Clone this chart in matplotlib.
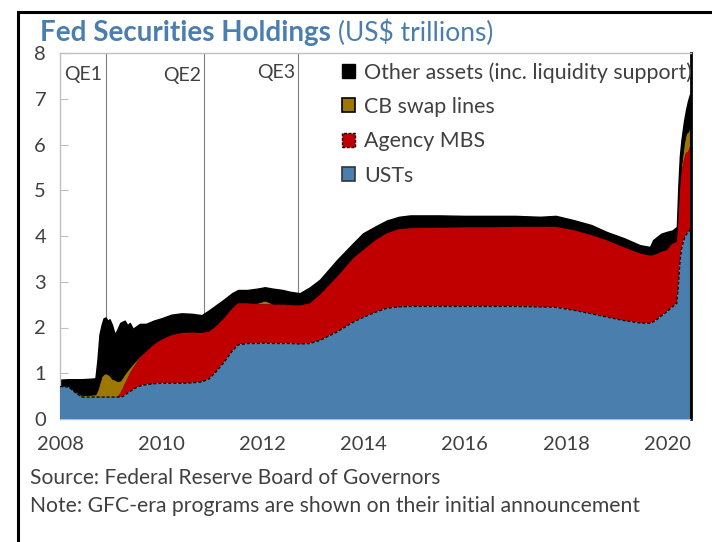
import matplotlib
matplotlib.use("Agg")
import matplotlib.pyplot as plt
from matplotlib.patches import Patch
from matplotlib.lines import Line2D
import numpy as np

plt.rcParams['font.family'] = ['Lato', 'DejaVu Sans']

# ---- data (US$ trillions), decimal-year dates ----
dates = [2008.00, 2008.17, 2008.30, 2008.43, 2008.60, 2008.70, 2008.74, 2008.78, 2008.82, 2008.86,
         2008.90, 2008.94, 2008.98, 2009.03, 2009.08, 2009.13, 2009.19, 2009.24, 2009.28, 2009.33,
         2009.38, 2009.44, 2009.50, 2009.58, 2009.70, 2009.85, 2010.00, 2010.20, 2010.40, 2010.60,
         2010.80, 2010.95, 2011.10, 2011.25, 2011.40, 2011.52, 2011.70, 2011.90, 2012.05, 2012.20,
         2012.40, 2012.55, 2012.74, 2012.94, 2013.14, 2013.47, 2013.80, 2013.99, 2014.25, 2014.46,
         2014.70, 2014.92, 2015.50, 2016.00, 2016.50, 2017.00, 2017.49, 2017.80, 2018.14, 2018.50,
         2018.80, 2019.15, 2019.46, 2019.66, 2019.72, 2019.80, 2019.88, 2019.99, 2020.10, 2020.19,
         2020.22, 2020.25, 2020.28, 2020.33, 2020.37, 2020.41, 2020.45, 2020.465, 2020.47]

usts = [0.71, 0.70, 0.58, 0.48, 0.48, 0.48, 0.48, 0.48, 0.48, 0.48,
        0.48, 0.48, 0.48, 0.48, 0.48, 0.48, 0.48, 0.49, 0.52, 0.56,
        0.60, 0.64, 0.68, 0.72, 0.75, 0.77, 0.78, 0.78, 0.78, 0.79,
        0.81, 0.88, 1.05, 1.25, 1.48, 1.62, 1.65, 1.65, 1.66, 1.65,
        1.65, 1.65, 1.64, 1.65, 1.72, 1.90, 2.12, 2.22, 2.34, 2.42,
        2.45, 2.46, 2.46, 2.46, 2.46, 2.46, 2.45, 2.44, 2.38, 2.30,
        2.23, 2.15, 2.10, 2.09, 2.12, 2.18, 2.25, 2.34, 2.45, 2.53,
        2.90, 3.40, 3.70, 3.92, 4.02, 4.08, 4.13, 4.13, 0.0]

agency_mbs = [0.0, 0.0, 0.0, 0.0, 0.0, 0.0, 0.0, 0.0, 0.0, 0.0,
              0.0, 0.0, 0.0, 0.0, 0.0, 0.0, 0.08, 0.18, 0.25, 0.32,
              0.40, 0.47, 0.53, 0.62, 0.72, 0.85, 0.95, 1.05, 1.10, 1.10,
              1.07, 1.03, 0.99, 0.96, 0.93, 0.91, 0.88, 0.86, 0.85, 0.85,
              0.85, 0.84, 0.84, 0.88, 1.00, 1.20, 1.40, 1.47, 1.58, 1.64,
              1.70, 1.71, 1.72, 1.73, 1.73, 1.74, 1.75, 1.76, 1.75, 1.72,
              1.68, 1.60, 1.52, 1.48, 1.46, 1.43, 1.40, 1.35, 1.38, 1.34,
              1.42, 1.55, 1.67, 1.75, 1.80, 1.76, 1.82, 1.82, 0.0]

cb_swaps = [0.00, 0.02, 0.03, 0.04, 0.05, 0.06, 0.15, 0.30, 0.45, 0.50,
            0.52, 0.50, 0.47, 0.40, 0.38, 0.35, 0.28, 0.25, 0.22, 0.18,
            0.13, 0.10, 0.07, 0.04, 0.02, 0.01, 0.0, 0.0, 0.0, 0.0,
            0.0, 0.0, 0.0, 0.0, 0.0, 0.0, 0.0, 0.03, 0.08, 0.02,
            0.01, 0.0, 0.0, 0.0, 0.0, 0.0, 0.0, 0.0, 0.0, 0.0,
            0.0, 0.0, 0.0, 0.0, 0.0, 0.0, 0.0, 0.0, 0.0, 0.0,
            0.0, 0.0, 0.0, 0.0, 0.0, 0.0, 0.0, 0.0, 0.0, 0.0,
            0.03, 0.08, 0.20, 0.35, 0.42, 0.44, 0.43, 0.40, 0.0]

other_assets = [0.15, 0.15, 0.26, 0.35, 0.35, 0.35, 0.67, 1.07, 1.12, 1.22,
                1.22, 1.17, 1.23, 1.17, 0.99, 1.12, 1.26, 1.21, 1.16, 0.99,
                0.97, 0.76, 0.74, 0.70, 0.59, 0.52, 0.47, 0.45, 0.43, 0.41,
                0.39, 0.47, 0.46, 0.41, 0.34, 0.29, 0.29, 0.31, 0.29, 0.33,
                0.31, 0.29, 0.27, 0.35, 0.33, 0.37, 0.33, 0.37, 0.30, 0.28,
                0.27, 0.28, 0.27, 0.25, 0.25, 0.24, 0.22, 0.24, 0.22, 0.22,
                0.18, 0.20, 0.18, 0.19, 0.33, 0.37, 0.40, 0.40, 0.29, 0.33,
                0.75, 0.72, 0.52, 0.48, 0.51, 0.67, 0.72, 0.65, 0.0]

qe_dates = [2008.90, 2010.84, 2012.70]
qe_labels = ["QE1", "QE2", "QE3"]
series_labels = ["Other assets (inc. liquidity support)", "CB swap lines", "Agency MBS", "USTs"]

# ---- styling ----
C_BLUE = "#4A7EAD"
C_RED = "#C00000"
C_GOLD = "#9C7800"
C_BLACK = "#000000"
C_TITLE = "#4A7EB0"
C_TEXT = "#404040"
C_SPINE = "#BFBFBF"

fig = plt.figure(figsize=(7.12, 5.42), dpi=100)
ax = fig.add_axes([60/712, 1-419/542, 631/712, 366/542])

x = np.array(dates)
l1 = np.array(usts)
l2 = l1 + np.array(agency_mbs)
l3 = l2 + np.array(cb_swaps)
l4 = l3 + np.array(other_assets)

ax.fill_between(x, l3, l4, facecolor=C_BLACK, edgecolor=C_BLACK, linewidth=1.0, zorder=2)
ax.fill_between(x, l2, l3, facecolor=C_GOLD, edgecolor=C_BLACK, linewidth=0.6, zorder=3)
ax.fill_between(x, l1, l2, facecolor=C_RED, edgecolor="none", linewidth=0, zorder=3)
ax.fill_between(x, 0, l1, facecolor=C_BLUE, edgecolor="none", linewidth=0, zorder=3)
ax.plot(x[:-1], l1[:-1], color=C_BLACK, linewidth=0.9, linestyle=(0, (2.5, 1.5)), zorder=4)
ax.plot([x[-2], x[-2]], [0, l4[-2]], color=C_BLACK, linewidth=1.5, zorder=4)

for d in qe_dates:
    ax.axvline(d, color="#808080", linewidth=0.8, zorder=1)
yq = [7.52, 7.50, 7.58]
for d, lab, yy in zip(qe_dates, qe_labels, yq):
    ax.text(d - 0.06, yy, lab, ha="right", va="center", fontsize=14, color=C_TEXT, zorder=5)

ax.set_xlim(2008.0, 2020.47)
ax.set_ylim(0, 8)
ax.set_xticks(range(2008, 2021, 2))
ax.set_yticks(range(0, 9))
ax.tick_params(axis="both", direction="in", colors=C_SPINE, labelcolor=C_TEXT, labelsize=14.5)
ax.tick_params(axis="x", length=5, pad=12)
ax.tick_params(axis="y", length=6, pad=10)
for s in ["left", "top", "bottom"]:
    ax.spines[s].set_color(C_SPINE)
    ax.spines[s].set_linewidth(1.0)
ax.spines["right"].set_color(C_BLACK)
ax.spines["right"].set_linewidth(2.0)

handles = [
    Patch(facecolor=C_BLACK, edgecolor=C_BLACK, linewidth=1.0),
    Patch(facecolor=C_GOLD, edgecolor=C_BLACK, linewidth=1.2),
    Patch(facecolor=C_RED, edgecolor=C_BLACK, linewidth=1.0, linestyle=(0, (2, 1.2))),
    Patch(facecolor=C_BLUE, edgecolor="#333333", linewidth=1.2),
]
leg = fig.legend(handles, series_labels, loc="upper left", bbox_to_anchor=(342/712, 1-62/542),
                 frameon=False, fontsize=15.4, handlelength=0.62, handleheight=0.62,
                 handletextpad=0.4, labelspacing=0.67, borderaxespad=0, borderpad=0)
for t in leg.get_texts():
    t.set_color(C_TEXT)

t1 = fig.text(40/712, 1-33/542, "Fed Securities Holdings", fontsize=20, fontweight="bold",
              color=C_TITLE, ha="left", va="center")
fig.canvas.draw()
bb = t1.get_window_extent(fig.canvas.get_renderer())
fig.text((bb.x1 + 7) / 712, 1-33/542, "(US$ trillions)", fontsize=19, color=C_TITLE,
         ha="left", va="center")

fig.text(30/712, 1-478/542, "Source: Federal Reserve Board of Governors", fontsize=15.1,
         color=C_TEXT, ha="left", va="center")
fig.text(30/712, 1-506/542, "Note: GFC-era programs are shown on their initial announcement",
         fontsize=15.2, color=C_TEXT, ha="left", va="center")

# outer frame (left and top sides visible)
fig.add_artist(Line2D([18/712, 18/712], [0, 1-12/542], transform=fig.transFigure,
                      color="black", linewidth=2.2))
fig.add_artist(Line2D([18/712, 1], [1-12/542, 1-12/542], transform=fig.transFigure,
                      color="black", linewidth=2.2))

fig.savefig("out.png", dpi=100)
